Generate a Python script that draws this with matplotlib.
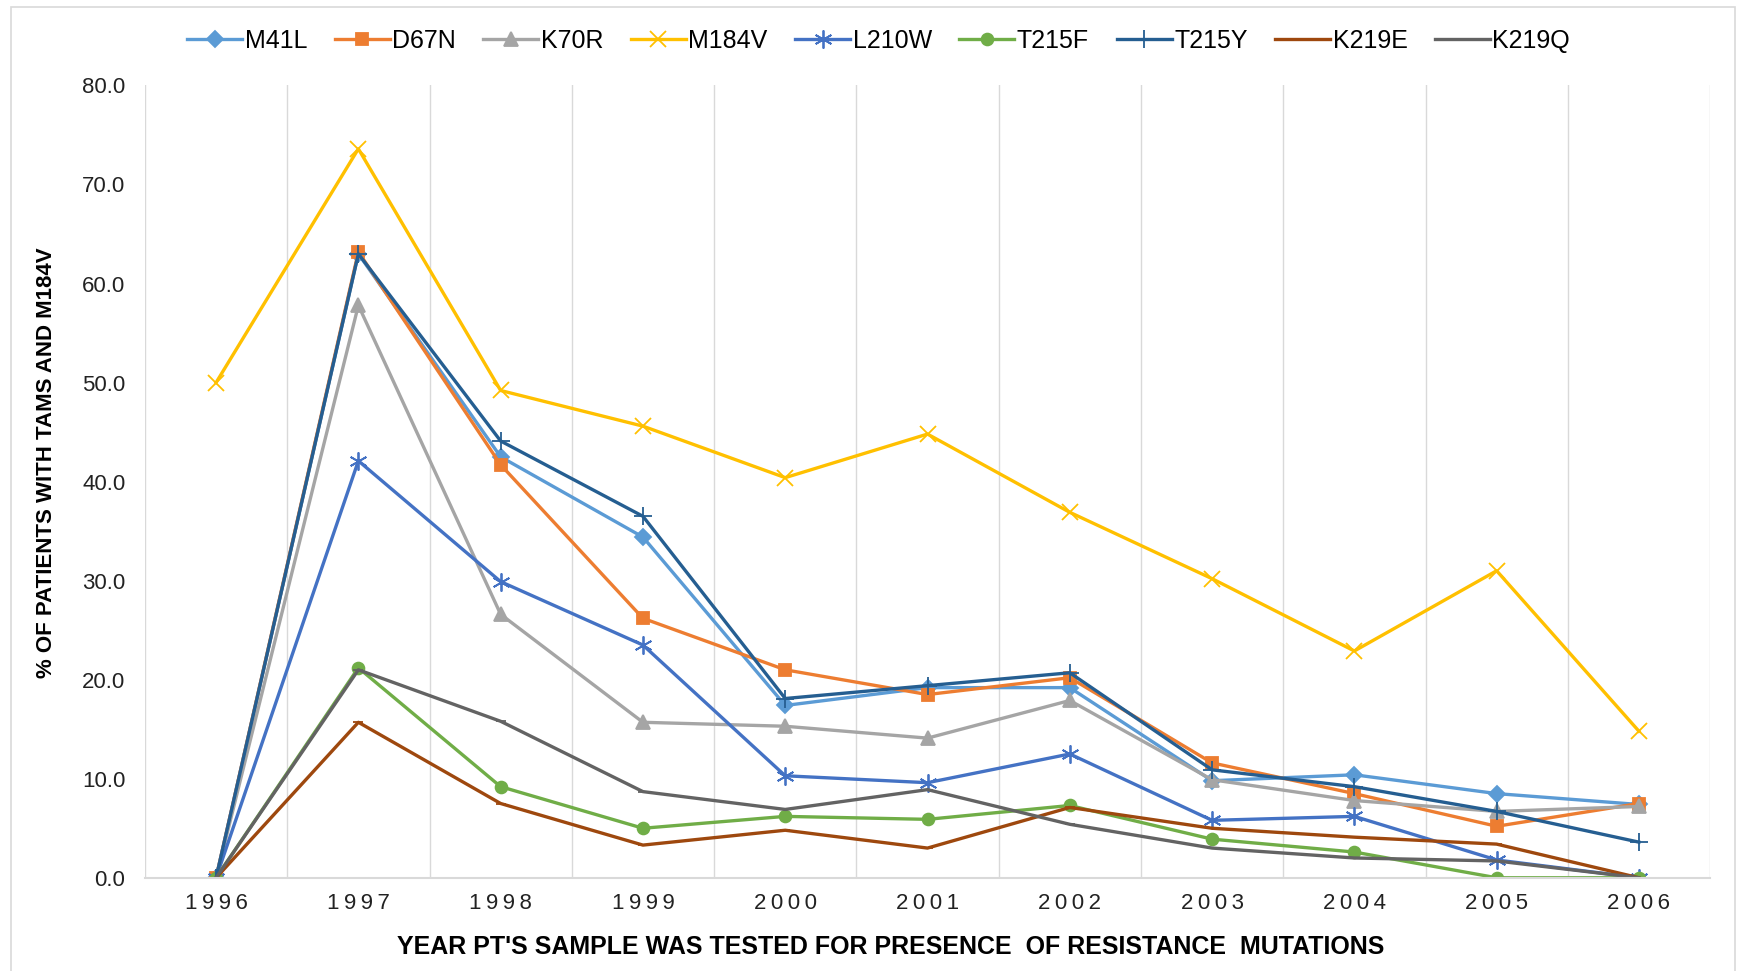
import matplotlib
matplotlib.use("Agg")
import matplotlib.pyplot as plt
from matplotlib.patches import Rectangle

plt.rcParams["font.family"] = ["Liberation Sans", "DejaVu Sans"]

years = ["1996", "1997", "1998", "1999", "2000", "2001", "2002", "2003", "2004", "2005", "2006"]

m41l = [0.0, 63.0, 42.5, 34.4, 17.4, 19.2, 19.2, 9.8, 10.4, 8.5, 7.4]
d67n = [0.0, 63.2, 41.7, 26.2, 21.0, 18.5, 20.2, 11.6, 8.5, 5.2, 7.5]
k70r = [0.0, 57.8, 26.6, 15.7, 15.3, 14.1, 17.9, 9.9, 7.8, 6.7, 7.2]
m184v = [50.0, 73.6, 49.2, 45.6, 40.4, 44.8, 36.9, 30.2, 22.9, 31.0, 14.8]
l210w = [0.0, 42.1, 29.9, 23.5, 10.3, 9.6, 12.5, 5.8, 6.2, 1.8, 0.0]
t215f = [0.0, 21.2, 9.2, 5.0, 6.2, 5.9, 7.3, 3.9, 2.6, 0.0, 0.0]
t215y = [0.0, 63.0, 44.1, 36.5, 18.1, 19.4, 20.7, 10.9, 9.2, 6.7, 3.6]
k219e = [0.0, 15.7, 7.5, 3.3, 4.8, 3.0, 7.1, 5.0, 4.1, 3.4, 0.0]
k219q = [0.0, 21.0, 15.8, 8.7, 6.9, 8.9, 5.4, 3.0, 2.0, 1.7, 0.0]

series = [
    ("M41L", m41l, "#5B9BD5", "D", 8),
    ("D67N", d67n, "#ED7D31", "s", 8.5),
    ("K70R", k70r, "#A5A5A5", "^", 9.5),
    ("M184V", m184v, "#FFC000", "x", 11),
    ("L210W", l210w, "#4472C4", (6, 2, 0), 13),
    ("T215F", t215f, "#70AD47", "o", 8.5),
    ("T215Y", t215y, "#255E91", "+", 13),
    ("K219E", k219e, "#9E480E", "_", 7),
    ("K219Q", k219q, "#636363", "_", 7),
]

fig = plt.figure(figsize=(17.4, 9.71), dpi=100)
ax = fig.add_axes([0.0833, 0.096, 0.8995, 0.816])

x = list(range(len(years)))
for name, vals, color, marker, ms in series:
    ax.plot(x, vals, color=color, lw=2.4, marker=marker, markersize=ms,
            markeredgewidth=1.3, label=name)

ax.set_xlim(-0.5, len(years) - 0.5)
ax.set_ylim(0, 80)
ax.set_yticks(range(0, 81, 10))
ax.set_yticklabels([f"{v:.1f}" for v in range(0, 81, 10)])
ax.set_xticks(x)
# the years are drawn letter-spaced in the original
ax.set_xticklabels(["\u2009".join(y) for y in years])

for b in range(len(years) + 1):
    ax.axvline(b - 0.5, color="#D9D9D9", lw=1, zorder=0)
for side in ["top", "right", "left"]:
    ax.spines[side].set_visible(False)
ax.spines["bottom"].set_color("#D9D9D9")
ax.spines["bottom"].set_linewidth(1.5)
ax.tick_params(length=0, labelsize=16, colors="#222222")
ax.tick_params(axis="y", pad=14)
ax.tick_params(axis="x", pad=11)

fig.text(0.512, 0.025, "YEAR PT'S SAMPLE WAS TESTED FOR PRESENCE  OF RESISTANCE  MUTATIONS",
         ha="center", va="center", fontsize=18, fontweight="bold")
fig.text(0.027, 0.523, "% OF PATIENTS WITH TAMS AND M184V", rotation=90,
         ha="center", va="center", fontsize=16, fontweight="bold")

fig.legend(loc="center", bbox_to_anchor=(0.505, 0.958), ncol=9, frameon=False,
           fontsize=18, handlelength=2.2, columnspacing=1.1, handletextpad=0.1)

fig.patches.append(Rectangle((11 / 1740, -0.05), 1724 / 1740, 1.05 - 7 / 971,
                             transform=fig.transFigure, fill=False,
                             edgecolor="#D9D9D9", lw=1.2))

fig.savefig("out.png", dpi=100)
plt.close(fig)
